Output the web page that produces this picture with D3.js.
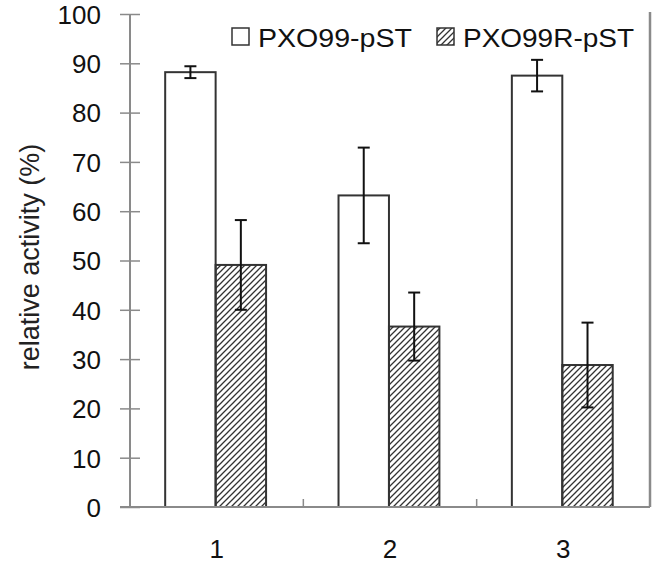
<!DOCTYPE html>
<html>
<head>
<meta charset="utf-8">
<script src="https://cdn.jsdelivr.net/npm/d3@7"></script>
<style>
  body { margin: 0; background: #fff; }
  svg { display: block; font-family: "Liberation Sans", Arial, sans-serif; }
</style>
</head>
<body>
<script>
// donnees
const categories = ["1", "2", "3"];
const series = ["PXO99-pST", "PXO99R-pST"];
const pxo99 = [88.2, 63.2, 87.5];
const pxo99Err = [1.2, 9.7, 3.2];
const pxo99R = [49.1, 36.6, 28.8];
const pxo99RErr = [9.1, 6.9, 8.6];
const yTicks = [0, 10, 20, 30, 40, 50, 60, 70, 80, 90, 100];

const width = 653, height = 564;
const mLeft = 130, mRight = 650, mTop = 14, mBottom = 507;

const svg = d3.select("body").append("svg")
  .attr("width", width)
  .attr("height", height);

// motif hachure
svg.append("defs").append("pattern")
  .attr("id", "hatch")
  .attr("patternUnits", "userSpaceOnUse")
  .attr("width", 6)
  .attr("height", 6)
  .append("path")
  .attr("d", "M0,6 L6,0 M-1.5,1.5 L1.5,-1.5 M4.5,7.5 L7.5,4.5")
  .attr("stroke", "#333")
  .attr("stroke-width", 1.3);

const x0 = d3.scaleBand().domain(categories).range([mLeft, mRight]);
const bw = x0.bandwidth();
const x1 = d3.scaleBand().domain(series).range([bw * 0.203, bw * 0.785]);
const y = d3.scaleLinear().domain([0, 100]).range([mBottom, mTop]);

const data = categories.map((c, i) => [
  { cat: c, s: series[0], v: pxo99[i], e: pxo99Err[i] },
  { cat: c, s: series[1], v: pxo99R[i], e: pxo99RErr[i] }
]).flat();

// axe y
const yAxis = svg.append("g")
  .attr("transform", `translate(${mLeft},0)`)
  .call(d3.axisLeft(y).tickValues(yTicks).tickSize(10).tickPadding(20));
yAxis.select(".domain").remove();
yAxis.append("line")
  .attr("y1", mTop).attr("y2", mBottom)
  .attr("stroke", "#8a8a8a").attr("stroke-width", 2);
yAxis.selectAll(".tick line")
  .attr("x1", -10).attr("x2", 10)
  .attr("stroke", "#8a8a8a").attr("stroke-width", 1.5);
yAxis.selectAll(".tick text")
  .attr("font-size", 26)
  .attr("fill", "#111")
  .attr("x", -29)
  .attr("dy", "0.36em");

// bord droit
svg.append("line")
  .attr("x1", mRight).attr("x2", mRight)
  .attr("y1", mTop - 2).attr("y2", mBottom)
  .attr("stroke", "#8a8a8a").attr("stroke-width", 2.5);

// barres
svg.selectAll(".bar")
  .data(data)
  .enter()
  .append("rect")
  .attr("class", "bar")
  .attr("x", d => x0(d.cat) + x1(d.s))
  .attr("y", d => y(d.v))
  .attr("width", x1.bandwidth())
  .attr("height", d => y(0) - y(d.v))
  .attr("fill", d => d.s === series[0] ? "#fff" : "url(#hatch)")
  .attr("stroke", "#333")
  .attr("stroke-width", 2);

// axe x
const xAxis = svg.append("g")
  .attr("transform", `translate(0,${mBottom})`);
xAxis.append("line")
  .attr("x1", mLeft - 10).attr("x2", mRight)
  .attr("stroke", "#8a8a8a").attr("stroke-width", 2);
xAxis.selectAll(".sep")
  .data(categories.slice(1))
  .enter()
  .append("line")
  .attr("x1", d => x0(d)).attr("x2", d => x0(d))
  .attr("y1", 0).attr("y2", -8)
  .attr("stroke", "#8a8a8a").attr("stroke-width", 1.5);
xAxis.selectAll(".lab")
  .data(categories)
  .enter()
  .append("text")
  .attr("x", d => x0(d) + bw / 2)
  .attr("y", 51)
  .attr("text-anchor", "middle")
  .attr("font-size", 26)
  .attr("fill", "#111")
  .text(d => d);

// barres d'erreur
const err = svg.selectAll(".err")
  .data(data)
  .enter()
  .append("g")
  .attr("stroke", "#111")
  .attr("stroke-width", 2);
const cx = d => x0(d.cat) + x1(d.s) + x1.bandwidth() / 2;
err.append("line")
  .attr("x1", cx).attr("x2", cx)
  .attr("y1", d => y(d.v + d.e)).attr("y2", d => y(d.v - d.e));
err.append("line")
  .attr("x1", d => cx(d) - 6).attr("x2", d => cx(d) + 6)
  .attr("y1", d => y(d.v + d.e)).attr("y2", d => y(d.v + d.e));
err.append("line")
  .attr("x1", d => cx(d) - 6).attr("x2", d => cx(d) + 6)
  .attr("y1", d => y(d.v - d.e)).attr("y2", d => y(d.v - d.e));

// titre axe y
svg.append("text")
  .attr("transform", "translate(39,257) rotate(-90)")
  .attr("text-anchor", "middle")
  .attr("font-size", 27)
  .attr("fill", "#222")
  .text("relative activity (%)");

// legende
const legend = [
  { s: series[0], x: 232, fill: "#fff", len: 154 },
  { s: series[1], x: 437, fill: "url(#hatch)", len: 171 }
];
const lg = svg.selectAll(".leg")
  .data(legend)
  .enter()
  .append("g");
lg.append("rect")
  .attr("x", d => d.x).attr("y", 28)
  .attr("width", 17).attr("height", 17)
  .attr("fill", d => d.fill)
  .attr("stroke", "#333")
  .attr("stroke-width", 1.5);
lg.append("text")
  .attr("x", d => d.x + 26)
  .attr("y", 46.5)
  .attr("font-size", 26)
  .attr("fill", "#111")
  .attr("textLength", d => d.len)
  .attr("lengthAdjust", "spacingAndGlyphs")
  .text(d => d.s);
</script>
</body>
</html>
